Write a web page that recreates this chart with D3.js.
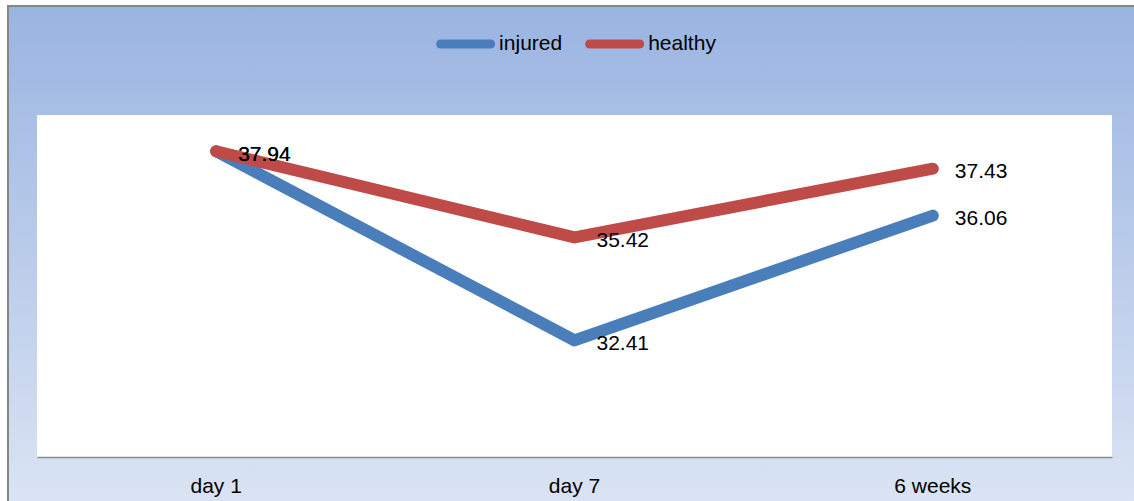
<!DOCTYPE html>
<html>
<head>
<meta charset="utf-8">
<script src="https://cdn.jsdelivr.net/npm/d3@7"></script>
<style>
  html, body { margin: 0; padding: 0; background: #ffffff; }
  svg { display: block; }
  text { font-family: "Liberation Sans", Arial, sans-serif; fill: #000; }
</style>
</head>
<body>
<svg id="chart" width="1134" height="501"></svg>
<script>
// Time points on the x axis
const categories = ["day 1", "day 7", "6 weeks"];
// Measured values per group
const injured = [37.94, 32.41, 36.06];
const healthy = [37.94, 35.42, 37.43];
const seriesNames = ["injured", "healthy"];
const seriesColors = ["#4a7ebb", "#be4b48"];
// Value axis range (axis itself is hidden)
const yDomain = [29, 39];

const W = 1134, H = 501;
const plot = { left: 37, right: 1112, top: 115, bottom: 457 };
const FONT = 21;

const svg = d3.select("#chart");

// Chart area background: vertical blue gradient with a gray frame
const defs = svg.append("defs");
const grad = defs.append("linearGradient")
  .attr("id", "bg").attr("x1", 0).attr("y1", 0).attr("x2", 0).attr("y2", 1);
grad.append("stop").attr("offset", "0%").attr("stop-color", "#9ab4e1");
grad.append("stop").attr("offset", "100%").attr("stop-color", "#dde6f4");

svg.append("rect")
  .attr("x", 8).attr("y", 6)
  .attr("width", W + 20).attr("height", H + 20)
  .attr("fill", "url(#bg)")
  .attr("stroke", "#868686").attr("stroke-width", 2);

// Plot area
svg.append("rect")
  .attr("x", plot.left).attr("y", plot.top)
  .attr("width", plot.right - plot.left).attr("height", plot.bottom - plot.top)
  .attr("fill", "#ffffff");

const x = d3.scaleBand().domain(categories).range([plot.left, plot.right]);
const y = d3.scaleLinear().domain(yDomain).range([plot.bottom, plot.top]);
const cx = c => x(c) + x.bandwidth() / 2;

// Category axis
const xAxis = svg.append("g")
  .attr("transform", `translate(0,${plot.bottom})`)
  .call(d3.axisBottom(x).tickSize(0).tickSizeOuter(0).tickPadding(21));
xAxis.select(".domain").attr("stroke", "#8a8a8a").attr("stroke-width", 1.5);
xAxis.selectAll("text")
  .style("font-family", '"Liberation Sans", Arial, sans-serif')
  .style("font-size", FONT + "px")
  .attr("fill", "#000");

// Lines
const series = [
  { name: seriesNames[0], values: injured, color: seriesColors[0] },
  { name: seriesNames[1], values: healthy, color: seriesColors[1] }
];

const line = d3.line()
  .x((d, i) => cx(categories[i]))
  .y(d => y(d));

svg.append("g").selectAll("path")
  .data(series)
  .join("path")
  .attr("d", s => line(s.values))
  .attr("fill", "none")
  .attr("stroke", s => s.color)
  .attr("stroke-width", 12)
  .attr("stroke-linecap", "round")
  .attr("stroke-linejoin", "round");

// Data labels to the right of each point
const labels = svg.append("g");
series.forEach(s => {
  labels.selectAll(null)
    .data(s.values)
    .join("text")
    .attr("x", (d, i) => cx(categories[i]) + 22)
    .attr("y", d => y(d) + 2)
    .attr("dy", "0.35em")
    .style("font-size", FONT + "px")
    .text(d => d.toFixed(2));
});

// Legend at the top
const legend = svg.append("g");
let offset = 0;
const items = [];
series.forEach(s => {
  const g = legend.append("g").attr("transform", `translate(${offset},0)`);
  g.append("line")
    .attr("x1", 4.5).attr("x2", 54.5)
    .attr("y1", 0).attr("y2", 0)
    .attr("stroke", s.color).attr("stroke-width", 9)
    .attr("stroke-linecap", "round");
  const t = g.append("text")
    .attr("x", 63).attr("y", 0).attr("dy", "0.3em")
    .style("font-size", FONT + "px")
    .text(s.name);
  const w = 63 + t.node().getComputedTextLength();
  items.push(w);
  offset += w + 23;
});
const totalW = offset - 23;
legend.attr("transform", `translate(${576 - totalW / 2},44)`);
</script>
</body>
</html>
